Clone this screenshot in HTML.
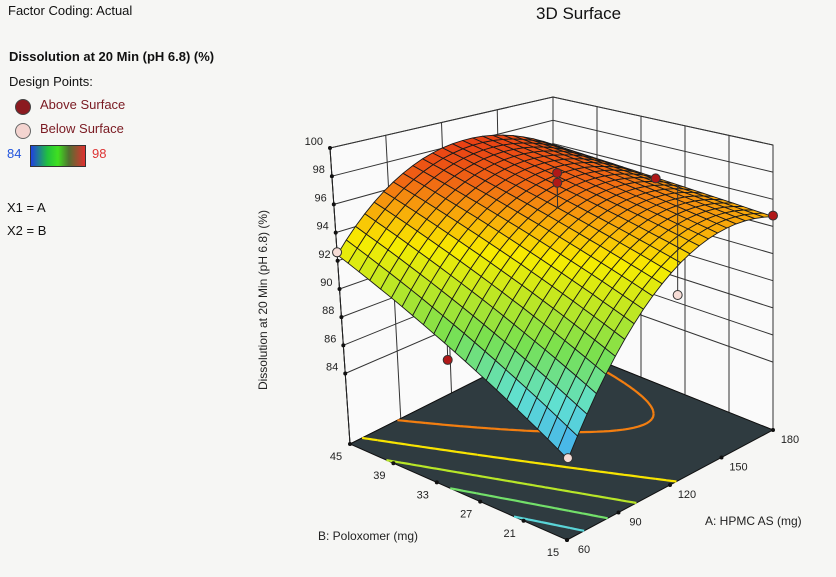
<!DOCTYPE html>
<html><head><meta charset="utf-8">
<style>
html,body{margin:0;padding:0;background:#f6f6f4;}
#wrap{position:relative;width:836px;height:577px;overflow:hidden;font-family:"Liberation Sans",sans-serif;color:#111;}
.t{position:absolute;white-space:nowrap;}
</style></head>
<body>
<div id="wrap">
<div class="t" style="left:8px;top:3px;font-size:13px">Factor Coding: Actual</div>
<div class="t" style="left:536px;top:4px;font-size:17px">3D Surface</div>
<div class="t" style="left:9px;top:49px;font-size:13px;font-weight:bold">Dissolution at 20 Min (pH 6.8) (%)</div>
<div class="t" style="left:9px;top:74px;font-size:13px">Design Points:</div>
<div class="t" style="left:15px;top:99px;width:14px;height:14px;border-radius:50%;background:#8b1a20;border:1px solid #444"></div>
<div class="t" style="left:40px;top:97px;font-size:13px;color:#7a1a22">Above Surface</div>
<div class="t" style="left:15px;top:123px;width:14px;height:14px;border-radius:50%;background:#f4d4d0;border:1px solid #666"></div>
<div class="t" style="left:40px;top:121px;font-size:13px;color:#7a1a22">Below Surface</div>
<div class="t" style="left:7px;top:146px;font-size:13px;color:#2255dd">84</div>
<div class="t" style="left:30px;top:145px;width:54px;height:20px;border:1px solid #333;background:linear-gradient(to right,#2040e0,#20c040 30%,#40e020 50%,#507030 70%,#e03030)"></div>
<div class="t" style="left:92px;top:146px;font-size:13px;color:#dd3333">98</div>
<div class="t" style="left:7px;top:200px;font-size:13px">X1 = A</div>
<div class="t" style="left:7px;top:223px;font-size:13px">X2 = B</div>
<svg id="plot" width="836" height="577" style="position:absolute;left:0;top:0"></svg>
</div>
<script>
// ---- data ----
const aTicks = [60, 90, 120, 150, 180];
const bTicks = [15, 21, 27, 33, 39, 45];
const zTicks = [84, 86, 88, 90, 92, 94, 96, 98, 100];
// model coefficients (coded): b0, a1, a2, a11, a22, a12
const coef = [95.6, 3.575, 2.425, -3.85, 0.0, -1.825];
const contourLevels = [86, 88.5, 91, 93.5, 96];
const ptA = [120, 120, 180, 180, 60, 60, 180, 60];
const ptB = [30, 30, 31, 15, 31, 45, 28, 15];
const ptVal = [98.1, 97.4, 95.3, 94.8, 87.5, 92.6, 86.6, 84.0];
const ptAbove = [1, 1, 1, 1, 1, 0, 0, 0];

const zf = 79, zt = 100;
const C = {
 "000":[567,540],"100":[773,430],"010":[350,444],"110":[553,342],
 "001":[571,196],"101":[773,145],"011":[330,148],"111":[553,97]};
function P(A,B,z){
  const u=(A-60)/120, v=(B-15)/30, w=(z-zf)/(zt-zf);
  let x=0,y=0;
  for(const k in C){
    const f=(k[0]==='1'?u:1-u)*(k[1]==='1'?v:1-v)*(k[2]==='1'?w:1-w);
    x+=f*C[k][0]; y+=f*C[k][1];
  }
  return [x,y];
}
function model(A,B){
  const x1=(A-120)/60, x2=(B-30)/15;
  return coef[0]+coef[1]*x1+coef[2]*x2+coef[3]*x1*x1+coef[4]*x2*x2+coef[5]*x1*x2;
}
const stops=[[84,[64,168,240]],[86.5,[96,224,210]],[89,[120,224,80]],[91.5,[200,232,30]],[93.3,[248,236,0]],[95,[248,170,10]],[96.6,[240,100,20]],[99,[228,45,20]]];
function color(z){
  if(z<=stops[0][0]) return 'rgb('+stops[0][1]+')';
  for(let i=1;i<stops.length;i++){
    if(z<=stops[i][0]){const t=(z-stops[i-1][0])/(stops[i][0]-stops[i-1][0]);
      const c=stops[i-1][1].map((a,j)=>Math.round(a+(stops[i][1][j]-a)*t));return 'rgb('+c+')';}
  }
  return 'rgb('+stops[stops.length-1][1]+')';
}
const svg=document.getElementById('plot');
const NS='http://www.w3.org/2000/svg';
function mk(tag,attrs){const e=document.createElementNS(NS,tag);for(const k in attrs)e.setAttribute(k,attrs[k]);svg.appendChild(e);return e;}
const pts=a=>a.map(p=>p[0].toFixed(1)+','+p[1].toFixed(1)).join(' ');

let e;
e=mk('polygon',{points:pts([P(60,45,zf),P(180,45,zf),P(180,45,zt),P(60,45,zt)]),fill:'#fafafa',stroke:'#333','stroke-width':1});


e=mk('polygon',{points:pts([P(180,45,zf),P(180,15,zf),P(180,15,zt),P(180,45,zt)]),fill:'#fafafa',stroke:'#333','stroke-width':1});


for(const z of zTicks){
  e=mk('polyline',{points:pts([P(60,45,z),P(180,45,z),P(180,15,z)]),fill:'none',stroke:'#333','stroke-width':1});
  
  
}
for(const a of aTicks){
  e=mk('line',{x1:P(a,45,zf)[0],y1:P(a,45,zf)[1],x2:P(a,45,zt)[0],y2:P(a,45,zt)[1],stroke:'#333','stroke-width':1});
  
  
}
for(const b of bTicks){
  e=mk('line',{x1:P(180,b,zf)[0],y1:P(180,b,zf)[1],x2:P(180,b,zt)[0],y2:P(180,b,zt)[1],stroke:'#333','stroke-width':1});
  
  
}
e=mk('polygon',{points:pts([P(60,15,zf),P(180,15,zf),P(180,45,zf),P(60,45,zf)]),fill:'#2f3b40',stroke:'#111','stroke-width':1});


const N=60;
const g=[];for(let i=0;i<=N;i++){g.push([]);for(let j=0;j<=N;j++)g[i].push(model(60+120*i/N,15+30*j/N));}
for(const lev of contourLevels){
  let d='';
  for(let i=0;i<N;i++)for(let j=0;j<N;j++){
    const c=[[i,j],[i+1,j],[i+1,j+1],[i,j+1]];
    const cr=[];
    for(let k=0;k<4;k++){const p=c[k],q=c[(k+1)%4];const v1=g[p[0]][p[1]],v2=g[q[0]][q[1]];
      if((v1-lev)*(v2-lev)<0){const t=(lev-v1)/(v2-v1);const ii=p[0]+(q[0]-p[0])*t,jj=p[1]+(q[1]-p[1])*t;cr.push(P(60+120*ii/N,15+30*jj/N,zf));}}
    if(cr.length>=2)d+='M'+cr[0][0].toFixed(1)+','+cr[0][1].toFixed(1)+'L'+cr[1][0].toFixed(1)+','+cr[1][1].toFixed(1);
  }
  e=mk('path',{d:d,stroke:color(lev),'stroke-width':2.2,fill:'none'});
  
  
}
function txt(x,y,s,anchor,size){const t=mk('text',{x:x,y:y,'font-size':size,'text-anchor':anchor,fill:'#222','font-family':'Liberation Sans, sans-serif'});t.textContent=s;return t;}
e=mk('line',{x1:P(60,45,zf)[0],y1:P(60,45,zf)[1],x2:P(60,45,zt)[0],y2:P(60,45,zt)[1],stroke:'#222','stroke-width':1});


for(const z of zTicks){const p=P(60,45,z);
  e=mk('circle',{cx:p[0],cy:p[1],r:2,fill:'#111'});
  
  
  e=txt(p[0]-7,p[1]-3,String(z),'end',11);
  
  
}
for(const b of bTicks){const p=P(60,b,zf);
  e=mk('circle',{cx:p[0],cy:p[1],r:2,fill:'#111'});
  
  
  e=txt(p[0]-14,p[1]+16,String(b),'middle',11);
  
  
}
for(const a of aTicks){const p=P(a,15,zf);
  e=mk('circle',{cx:p[0],cy:p[1],r:2,fill:'#111'});
  
  
  e=txt(p[0]+17,p[1]+13,String(a),'middle',11);
  
  
}
e=txt(318,540,'B: Poloxomer (mg)','start',12);


e=txt(705,525,'A: HPMC AS (mg)','start',12);


e=txt(0,0,'Dissolution at 20 Min (pH 6.8) (%)','middle',12);
e.setAttribute('transform','translate(267,300) rotate(-90)');


const M=22, quads=[];
for(let i=0;i<M;i++)for(let j=0;j<M;j++){
  const a0=60+120*i/M,a1=60+120*(i+1)/M,b0=15+30*j/M,b1=15+30*(j+1)/M;
  const zs=[model(a0,b0),model(a1,b0),model(a1,b1),model(a0,b1)];
  quads.push({d:(i+j),p:[P(a0,b0,zs[0]),P(a1,b0,zs[1]),P(a1,b1,zs[2]),P(a0,b1,zs[3])],z:(zs[0]+zs[1]+zs[2]+zs[3])/4});
}
quads.sort((q,r)=>r.d-q.d);
for(const q of quads){
  e=mk('polygon',{points:pts(q.p),fill:color(q.z),stroke:'#1a1a1a','stroke-width':0.9,'stroke-linejoin':'round'});
  
  
}
for(let k=0;k<ptA.length;k++){
  const s=P(ptA[k],ptB[k],model(ptA[k],ptB[k])), p=P(ptA[k],ptB[k],ptVal[k]);
  e=mk('line',{x1:s[0],y1:s[1],x2:p[0],y2:p[1],stroke:'#333','stroke-width':1});
  
  
  e=mk('circle',{cx:p[0],cy:p[1],r:4.5,fill:ptAbove[k]?'#b01818':'#f6dcd6',stroke:'#333','stroke-width':1});
  
  
}
</script>
</body></html>
